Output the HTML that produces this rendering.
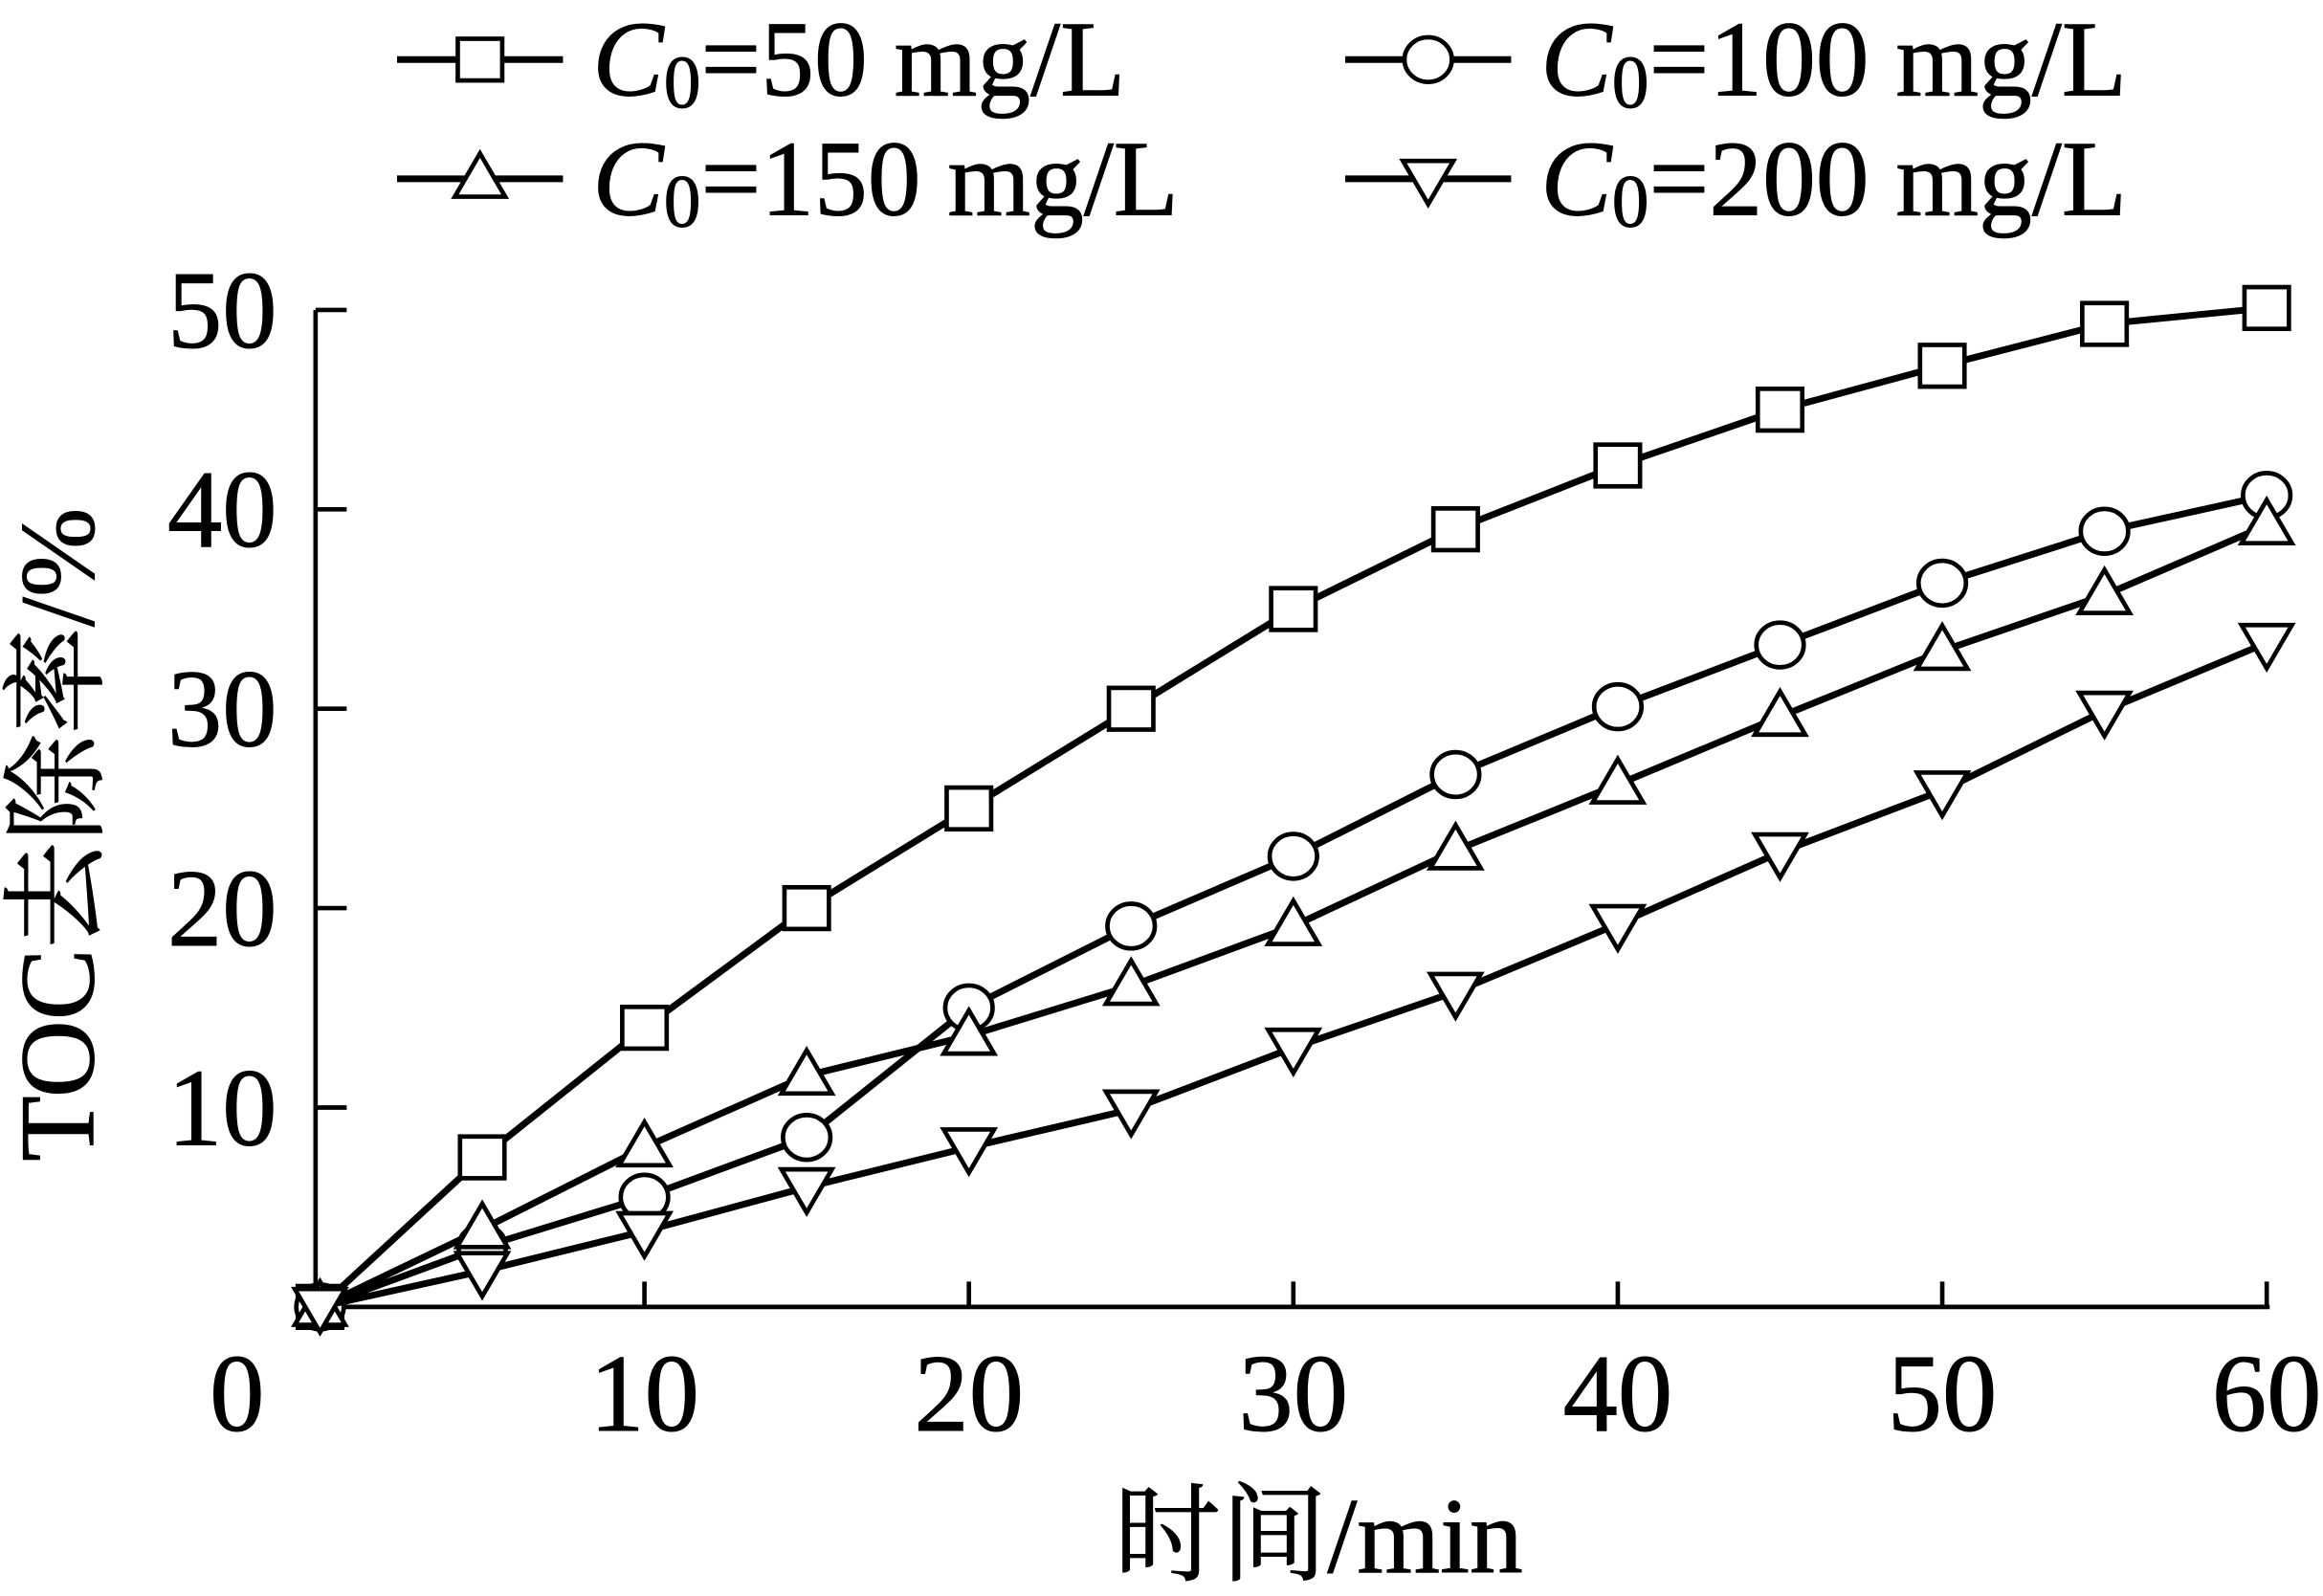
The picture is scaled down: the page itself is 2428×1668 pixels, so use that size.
<!DOCTYPE html>
<html><head><meta charset="utf-8"><style>
html,body{margin:0;padding:0;background:#fff;}
svg{display:block;}
text{font-family:"Liberation Serif","Noto Serif CJK SC",serif;fill:#000;}
</style></head><body>
<svg id="chart" width="2428" height="1668" viewBox="0 0 1568 1071" preserveAspectRatio="none" xmlns="http://www.w3.org/2000/svg">
<g id="axes"></g>
<g id="series"></g>
<g id="legend"></g>
<text x="890" y="1055" font-size="72" text-anchor="middle" stroke="#000" stroke-width="0.6" style='font-family:"Liberation Serif","Noto Serif CJK SC",serif'>时间/min</text>
<text transform="translate(63,560) rotate(-90)" font-size="72" text-anchor="middle" stroke="#000" stroke-width="0.6" style='font-family:"Liberation Serif","Noto Serif CJK SC",serif'>TOC去除率/%</text>
</svg>
<script>
const times=[0,5,10,15,20,25,30,35,40,45,50,55,60];
const s50=[0,7.5,14,20,25,30,35,39,42.2,45,47.2,49.3,50.1];
const s100=[0,3.0,5.5,8.5,15.0,19.1,22.6,26.7,30.1,33.2,36.3,38.9,40.7];
const s150=[0,3.9,8.0,11.6,13.6,16.1,19.1,22.9,26.2,29.6,32.9,35.7,39.2];
const s200=[0,1.8,3.8,6.0,8.0,9.9,13.0,15.8,19.2,22.8,25.9,29.9,33.3];
const xTicks=[0,10,20,30,40,50,60];
const yTicks=[0,10,20,30,40,50];
const seriesNames=["C0=50 mg/L","C0=100 mg/L","C0=150 mg/L","C0=200 mg/L"];

const NS="http://www.w3.org/2000/svg";
const X0=216,X1=1530,Y0=877,Y1=208;
const sx=v=>X0+(v-0)/60*(X1-X0);
const sy=v=>Y0-(v-0)/50*(Y0-Y1);
function mk(tag,attrs,parent){const e=document.createElementNS(NS,tag);for(const k in attrs)e.setAttribute(k,attrs[k]);parent.appendChild(e);return e;}
const axes=document.getElementById('axes');
let e=mk('line',{x1:213,y1:Y1,x2:213,y2:Y0,stroke:'#000','stroke-width':3},axes);


e=mk('line',{x1:213,y1:Y0,x2:X1+2,y2:Y0,stroke:'#000','stroke-width':3},axes);


yTicks.forEach(v=>{
  if(v>0){const t=mk('line',{x1:213,y1:sy(v),x2:234,y2:sy(v),stroke:'#000','stroke-width':3},axes);
  
  
  const l=mk('text',{x:187,y:sy(v)+25,'font-size':74,'text-anchor':'end',stroke:'#000','stroke-width':0.6},axes);l.textContent=v;
  
  }
});
xTicks.forEach(v=>{
  if(v>0){const t=mk('line',{x1:sx(v),y1:Y0,x2:sx(v),y2:Y0-17,stroke:'#000','stroke-width':3},axes);
  
  }
  const l=mk('text',{x:v===0?160:sx(v),y:960,'font-size':74,'text-anchor':'middle',stroke:'#000','stroke-width':0.6},axes);l.textContent=v;
  
  
});
function marker(type,x,y,g){
  let m;
  if(type==='square')m=mk('rect',{x:x-15,y:y-14,width:30,height:28},g);
  else if(type==='circle')m=mk('ellipse',{cx:x,cy:y,rx:16,ry:15},g);
  else if(type==='up')m=mk('polygon',{points:`${x},${y-17} ${x+17},${y+12} ${x-17},${y+12}`},g);
  else m=mk('polygon',{points:`${x-17},${y-12} ${x+17},${y-12} ${x},${y+17}`},g);
  m.setAttribute('fill','#fff');m.setAttribute('stroke','#000');m.setAttribute('stroke-width','3');
  return m;
}
const sg=document.getElementById('series');
const all=[[s50,'square'],[s100,'circle'],[s150,'up'],[s200,'down']];
all.forEach(([d,t],i)=>{
  const g=mk('g',{},sg);
  
  
  const p=mk('polyline',{points:d.map((v,j)=>sx(times[j])+','+sy(v)).join(' '),fill:'none',stroke:'#000','stroke-width':4.5},g);
  
  
  d.forEach((v,j)=>{const m=marker(t,sx(times[j]),sy(v),g);
    
    });
});
const lg=document.getElementById('legend');
const pos=[[268,40],[908,40],[268,120],[908,120]];
all.forEach(([d,t],i)=>{
  const [x,y]=pos[i];
  const g=mk('g',{},lg);
  
  
  mk('line',{x1:x,y1:y,x2:x+112,y2:y,stroke:'#000','stroke-width':4.5},g);
  marker(t,x+56,y,g);
  const tx=mk('text',{x:x+132,y:y+24,'font-size':72,stroke:'#000','stroke-width':0.6},g);
  const name=seriesNames[i];
  tx.innerHTML='<tspan font-style="italic">C</tspan><tspan font-size="50" dy="8">0</tspan><tspan dy="-8">'+name.slice(2)+'</tspan>';
});
</script>
</body></html>
